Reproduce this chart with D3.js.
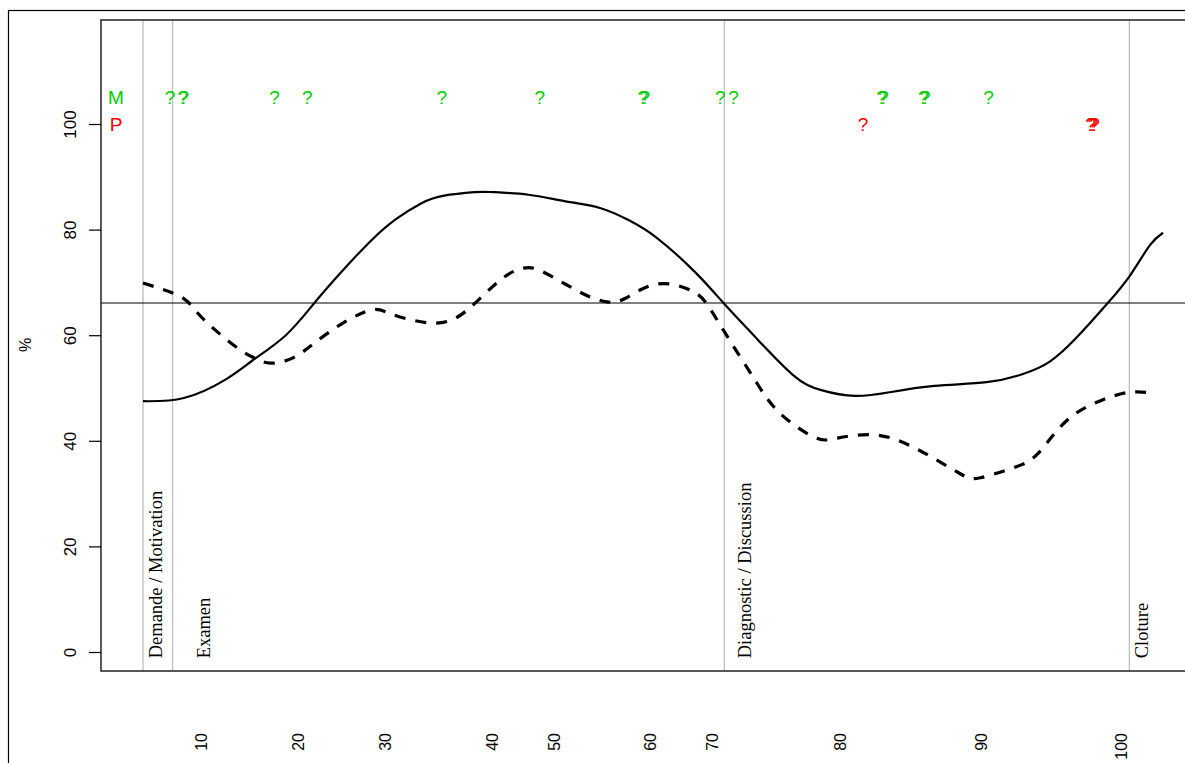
<!DOCTYPE html>
<html><head><meta charset="utf-8">
<script src="https://cdn.jsdelivr.net/npm/d3@7"></script>
<style>body{margin:0;background:#fff}svg{display:block}</style>
</head><body>
<svg id="c" width="1185" height="763"></svg>
<script>
// ---- data ----
const solidT = [0,4.0,8.0,10.8,14.0,16.8,19.6,22.4,24.8,27.3,29.4,32.5,34.3,37.8,41.3,44.8,47.6,50.4,54.2,57.0,60.0,63.7,66.5,69.8,73.2,77.6,82.7,86.2,88.9,91.6,94.5,96.8,98.7,100];
const solidV = [47.5,48.1,51.5,55.3,60.0,66.1,72.3,78.0,82.0,85.0,86.4,87.1,87.1,86.6,85.4,84.1,81.8,78.4,71.8,65.9,59.7,52.5,49.6,48.5,49.2,50.4,51.1,52.6,55.0,59.7,65.9,71.4,77.0,79.4];
const dashT = [0,2.9,4.4,6.0,9.1,10.9,12.5,14.7,16.8,19.6,22.4,24.1,26.3,28.7,30.8,32.9,35.4,37.3,39.2,43.0,45.5,47.3,50.4,53.8,55.5,57.5,60.0,62.4,65.8,68.1,71.9,76.0,80.0,82.1,85.5,87.8,90.6,94.0,96.8,99.2];
const dashV = [69.9,68.0,66.3,62.9,57.8,55.7,54.7,55.7,58.5,62.3,64.8,64.2,62.9,62.3,63.4,66.7,71.0,72.7,72.0,68.0,66.3,67.0,69.7,68.4,65.3,59.1,51.5,45.3,40.7,40.5,41.1,38.3,33.9,33.0,35.0,37.7,43.9,47.7,49.2,49.0];
const questionsM = [2.65,3.9,4.0,12.9,16.1,29.3,38.9,49.0,49.2,56.6,57.9,72.4,72.6,76.5,76.7,82.9];
const questionsP = [70.6,92.9,93.1,93.3];
const phaseT = [0,2.9,57.0,96.7];
const phaseLabels = ["Demande / Motivation","Examen","Diagnostic / Discussion","Cloture"];
const phaseLabelT = [1.87,6.58,59.6,98.5];
const xTickPos = [5.6,15.1,23.7,34.2,40.2,49.7,55.7,68.3,82.1,95.8];
const xTickLabels = ["10","20","30","40","50","60","70","80","90","100"];
const yTicks = [0,20,40,60,80,100];
const refLine = 66.1;
const rowM = 105.1, rowP = 100;

// ---- scales ----
const svg = d3.select("#c");
const x = d3.scaleLinear().domain([0,100]).range([143,1163]);
const y = d3.scaleLinear().domain([0,100]).range([652,124]);
const xMin = -4.12, xMax = 104.12, yMin = -3.6, yMax = 119.7;

// outer frame
svg.append("rect").attr("x",8.5).attr("y",10.5).attr("width",1300).attr("height",900)
  .attr("fill","none").attr("stroke","#000").attr("stroke-width",1.2);

// phase lines
svg.append("g").selectAll("line").data(phaseT).join("line")
  .attr("x1",d=>x(d)).attr("x2",d=>x(d)).attr("y1",y(yMax)).attr("y2",y(yMin))
  .attr("stroke","#bebebe").attr("stroke-width",1.3);

// reference line
svg.append("line").attr("x1",x(xMin)).attr("x2",x(xMax)).attr("y1",y(refLine)).attr("y2",y(refLine))
  .attr("stroke","#000").attr("stroke-width",1.2);

// plot box
svg.append("rect").attr("x",x(xMin)).attr("y",y(yMax)).attr("width",x(xMax)-x(xMin)).attr("height",y(yMin)-y(yMax))
  .attr("fill","none").attr("stroke","#222").attr("stroke-width",1.5);

// y axis
const ya = svg.append("g").attr("transform",`translate(${x(xMin)},0)`)
  .call(d3.axisLeft(y).tickValues(yTicks).tickSize(12).tickFormat(d3.format("d")));
ya.select(".domain").remove();
ya.selectAll("line").attr("stroke","#000").attr("stroke-width",1.2);
ya.selectAll("text").attr("x",null).attr("dy",null)
  .attr("transform","translate(-25,0) rotate(-90)").attr("text-anchor","middle")
  .attr("font-family","Liberation Sans, Arial, sans-serif").attr("font-size",17).attr("fill","#000");

// x axis
const xa = svg.append("g").attr("transform",`translate(0,${y(yMin)})`)
  .call(d3.axisBottom(x).tickValues(xTickPos).tickSize(0).tickFormat((d,i)=>xTickLabels[i]));
xa.select(".domain").remove();
xa.selectAll("line").remove();
xa.selectAll("text").attr("y",null).attr("dy",null)
  .attr("transform","translate(6,62) rotate(-90)").attr("text-anchor","end")
  .attr("font-family","Liberation Sans, Arial, sans-serif").attr("font-size",16).attr("fill","#000");

// y label
svg.append("text").attr("transform","translate(31,345) rotate(-90)").attr("text-anchor","middle")
  .attr("font-family","Liberation Sans, Arial, sans-serif").attr("font-size",16).text("%");

// phase labels
svg.append("g").selectAll("text").data(phaseLabels).join("text")
  .attr("transform",(d,i)=>`translate(${x(phaseLabelT[i])},${y(-1.2)}) rotate(-90)`)
  .attr("text-anchor","start")
  .attr("font-family","Liberation Serif, Times New Roman, serif").attr("font-size",18.5).text(d=>d);

// curves
const line = d3.line().x(d=>x(d[0])).y(d=>y(d[1])).curve(d3.curveNatural);
svg.append("path").attr("d",line(solidT.map((t,i)=>[t,solidV[i]])))
  .attr("fill","none").attr("stroke","#000").attr("stroke-width",2.2);
svg.append("path").attr("d",line(dashT.map((t,i)=>[t,dashV[i]])))
  .attr("fill","none").attr("stroke","#000").attr("stroke-width",3.2).attr("stroke-dasharray","11,10");

// row labels and question marks
const green = "#00cd00", red = "#ff0000";
const f = "Liberation Sans, Arial, sans-serif";
svg.append("text").attr("x",x(-2.65)).attr("y",y(rowM)).attr("dy","0.36em").attr("text-anchor","middle")
  .attr("font-family",f).attr("font-size",19).attr("fill",green).text("M");
svg.append("text").attr("x",x(-2.65)).attr("y",y(rowP)).attr("dy","0.36em").attr("text-anchor","middle")
  .attr("font-family",f).attr("font-size",19).attr("fill",red).text("P");
svg.append("g").selectAll("text").data(questionsM).join("text")
  .attr("x",d=>x(d)).attr("y",y(rowM)).attr("dy","0.36em").attr("text-anchor","middle")
  .attr("font-family",f).attr("font-size",19).attr("fill",green).text("?");
svg.append("g").selectAll("text").data(questionsP).join("text")
  .attr("x",d=>x(d)).attr("y",y(rowP)).attr("dy","0.36em").attr("text-anchor","middle")
  .attr("font-family",f).attr("font-size",19).attr("fill",red).text("?");
</script>
</body></html>
